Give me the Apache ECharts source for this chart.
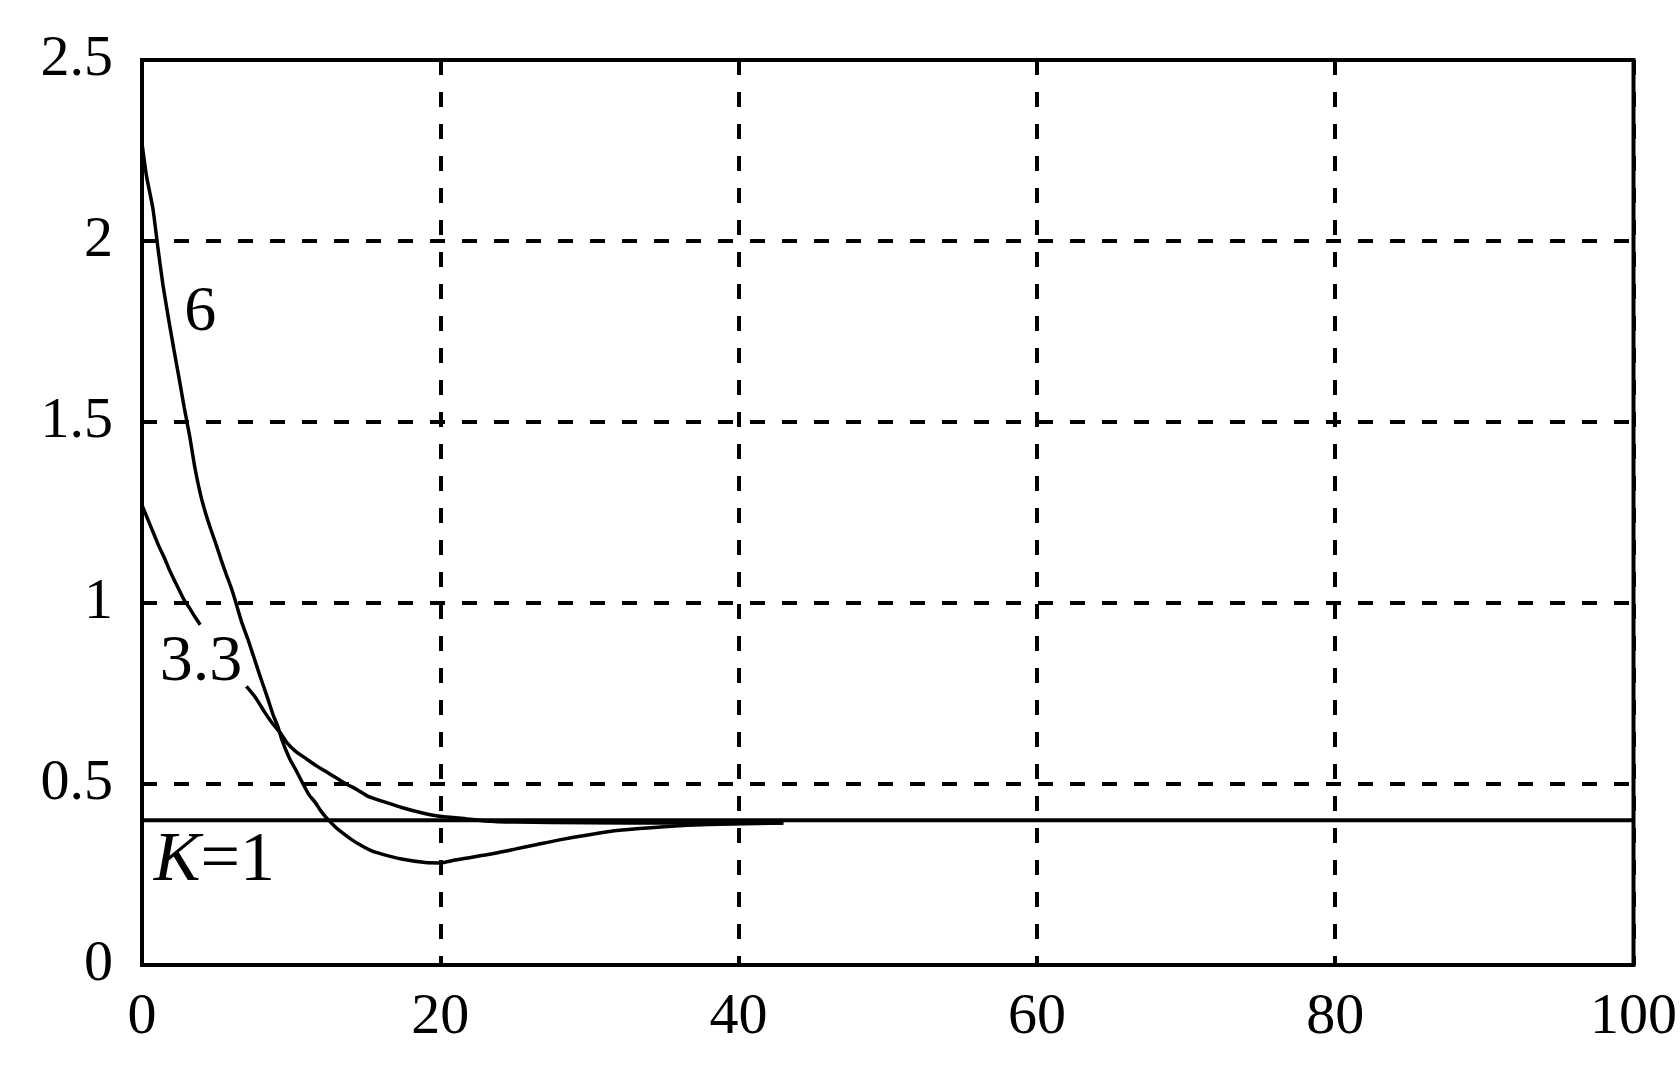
<!DOCTYPE html>
<html>
<head>
<meta charset="utf-8">
<script src="https://cdn.jsdelivr.net/npm/echarts@6/dist/echarts.min.js"></script>
<style>
html,body{margin:0;padding:0;background:#fff;}
#chart{width:1680px;height:1069px;}
</style>
</head>
<body>
<div id="chart"></div>
<script>
// ---- data ----
var xTicks = [0, 20, 40, 60, 80, 100];
var yTicks = [0, 0.5, 1, 1.5, 2, 2.5];

var curve6T = [0, 0.3, 0.73, 1.07, 1.4, 1.8, 2.14, 2.49, 2.83, 3.2, 3.54, 3.92, 4.25, 4.6, 4.94, 5.3, 5.64, 6.0, 6.3, 6.7, 7.1, 7.5, 7.9, 8.4, 8.8, 9.1, 9.4, 9.9, 10.3, 10.8, 11.2, 11.6, 12.0, 12.4, 13.0, 13.6, 14.1, 14.7, 15.4, 16.2, 17.4, 19.0, 20.0, 21.0, 23.2, 25.0, 26.5, 27.9, 30.0, 32.0, 35.0, 38.0, 43.0];
var curve6V = [2.27, 2.18, 2.09, 1.98, 1.88, 1.78, 1.70, 1.62, 1.54, 1.46, 1.375, 1.30, 1.25, 1.205, 1.165, 1.12, 1.08, 1.04, 1.00, 0.945, 0.90, 0.85, 0.80, 0.74, 0.69, 0.66, 0.62, 0.57, 0.54, 0.50, 0.47, 0.45, 0.425, 0.405, 0.38, 0.36, 0.345, 0.33, 0.315, 0.305, 0.293, 0.283, 0.282, 0.29, 0.305, 0.32, 0.333, 0.345, 0.36, 0.372, 0.382, 0.388, 0.392];

var curve33T = [0, 0.3, 0.7, 1.1, 1.5, 1.8, 2.2, 2.5, 2.8, 3.2, 3.5, 3.9, null, 7.0, 7.5, 7.9, 8.2, 8.7, 9.3, 9.7, 10.3, 11.0, 11.7, 12.3, 13.1, 13.7, 14.4, 15.2, 16.3, 17.4, 18.8, 20.1, 21.6, 23.0, 25.0, 30.0, 35.0, 43.0];
var curve33V = [1.27, 1.24, 1.20, 1.16, 1.125, 1.095, 1.06, 1.035, 1.01, 0.985, 0.965, 0.94, null, 0.77, 0.745, 0.72, 0.70, 0.67, 0.64, 0.615, 0.59, 0.57, 0.55, 0.535, 0.515, 0.50, 0.485, 0.465, 0.45, 0.435, 0.42, 0.41, 0.405, 0.398, 0.395, 0.393, 0.392, 0.392];

var curveK1T = [0, 100];
var curveK1V = [0.4, 0.4];

var labelT = [3.9, 3.95, 4.85];
var labelV = [1.80, 0.835, 0.285];
var labelText = ['6', '3.3', 'K=1'];
var labelSize = [64, 66, 70];

// ---- build ----
function pairs(ts, vs) {
  return ts.map(function (t, i) { return t === null ? [null, null] : [t, vs[i]]; });
}
var labelData = labelT.map(function (t, i) {
  return { value: [t, labelV[i]], name: labelText[i], size: labelSize[i] };
});

var lineStyle = { color: '#000', width: 3.5 };
var gridDash = { color: '#000', width: 4, type: [15, 17] };

var chart = echarts.init(document.getElementById('chart'), null, { renderer: 'canvas' });
chart.setOption({
  animation: false,
  backgroundColor: '#fff',
  grid: { left: 142, right: 41, top: 60, bottom: 104, show: true, borderColor: '#000', borderWidth: 4, backgroundColor: 'transparent' },
  xAxis: {
    type: 'value', min: xTicks[0], max: xTicks[xTicks.length - 1], interval: 20,
    axisLine: { show: false }, axisTick: { show: false },
    axisLabel: { color: '#000', fontFamily: 'Liberation Serif', fontSize: 58, margin: 24 },
    splitLine: { show: true, lineStyle: gridDash }
  },
  yAxis: {
    type: 'value', min: yTicks[0], max: yTicks[yTicks.length - 1], interval: 0.5,
    axisLine: { show: false }, axisTick: { show: false },
    axisLabel: { color: '#000', fontFamily: 'Liberation Serif', fontSize: 58, margin: 29 },
    splitLine: { show: true, lineStyle: gridDash }
  },
  series: [
    { type: 'line', data: pairs(curveK1T, curveK1V), symbol: 'none', lineStyle: { color: '#000', width: 4 }, z: 3 },
    { type: 'line', data: pairs(curve6T, curve6V), symbol: 'none', smooth: 0.2, lineStyle: lineStyle, connectNulls: false, z: 4 },
    { type: 'line', data: pairs(curve33T, curve33V), symbol: 'none', smooth: 0.2, lineStyle: lineStyle, connectNulls: false, z: 4 },
    {
      type: 'scatter', data: labelData, symbolSize: 1, itemStyle: { color: 'transparent', opacity: 1 }, z: 5,
      label: {
        show: true, position: 'inside', color: '#000', opacity: 1, textBorderWidth: 0, fontFamily: 'Liberation Serif', fontSize: 64,
        formatter: function (p) {
          var s = p.data.size;
          if (p.name.charAt(0) === 'K') return '{i|K}{n70|' + p.name.slice(1) + '}';
          return '{n' + s + '|' + p.name + '}';
        },
        rich: {
          i: { fontStyle: 'italic', fontFamily: 'Liberation Serif', fontSize: 70, color: '#000' },
          n70: { fontFamily: 'Liberation Serif', fontSize: 70, color: '#000' },
          n64: { fontFamily: 'Liberation Serif', fontSize: 64, color: '#000' },
          n66: { fontFamily: 'Liberation Serif', fontSize: 66, color: '#000' }
        }
      }
    }
  ]
});
</script>
</body>
</html>
